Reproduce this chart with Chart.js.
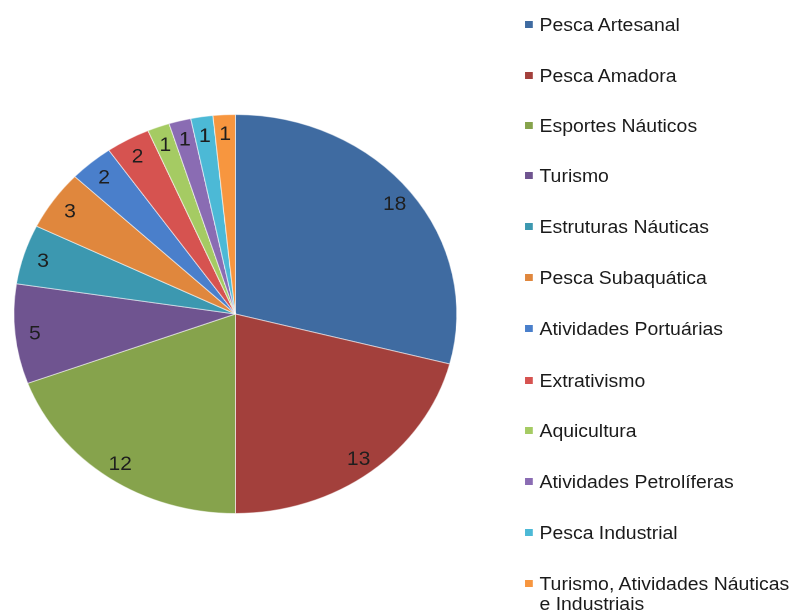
<!DOCTYPE html>
<html>
<head>
<meta charset="utf-8">
<script src="https://cdn.jsdelivr.net/npm/chart.js@4.4.0/dist/chart.umd.min.js"></script>
<style>
  html, body { margin: 0; padding: 0; background: #fff; }
  body { width: 795px; height: 612px; overflow: hidden; position: relative; }
  #stage { position: absolute; left: 0; top: 0; width: 716px; height: 612px;
           transform: scaleX(1.11); transform-origin: 0 0; }
  #c { position: absolute; left: 0; top: 0; }
  #legend { position: absolute; left: 0; top: 0; width: 716px; height: 612px;
            font-family: "Liberation Sans", Arial, sans-serif; font-size: 17.5px; color: #1a1a1a; }
  .item { position: absolute; left: 486px; width: 236px; line-height: 20px; }
  .box { position: absolute; left: -13px; top: 6px; width: 7px; height: 7px; }
</style>
</head>
<body>
<div id="stage">
  <canvas id="c" width="716" height="612"></canvas>
  <div id="legend"></div>
</div>
<script>
const categories = [
  "Pesca Artesanal", "Pesca Amadora", "Esportes Náuticos", "Turismo",
  "Estruturas Náuticas", "Pesca Subaquática", "Atividades Portuárias",
  "Extrativismo", "Aquicultura", "Atividades Petrolíferas",
  "Pesca Industrial", "Turismo, Atividades Náuticas e Industriais"
];
const values = [18, 13, 12, 5, 3, 3, 2, 2, 1, 1, 1, 1];
const colors = [
  "#3F6BA1", "#A3403C", "#86A34C", "#6F5490", "#3C98B0", "#E0873D",
  "#4A7FCB", "#D65350", "#A5CB63", "#8A6CB3", "#4CB9D6", "#F7963F"
];

const labelPlugin = {
  id: "sliceLabels",
  afterDatasetsDraw(chart) {
    const ctx = chart.ctx;
    const meta = chart.getDatasetMeta(0);
    ctx.save();
    ctx.font = '19px "Liberation Sans", Arial, sans-serif';
    ctx.fillStyle = "#1e1e1e";
    ctx.textAlign = "center";
    ctx.textBaseline = "middle";
    meta.data.forEach((arc, i) => {
      const p = arc.getProps(["x", "y", "startAngle", "endAngle", "outerRadius"], true);
      const mid = (p.startAngle + p.endAngle) / 2;
      const r = p.outerRadius * 0.91;
      ctx.fillText(String(values[i]), p.x + Math.cos(mid) * r, p.y + Math.sin(mid) * r + 2);
    });
    ctx.restore();
  }
};

new Chart(document.getElementById("c"), {
  type: "pie",
  data: {
    labels: categories,
    datasets: [{
      data: values,
      backgroundColor: colors,
      borderColor: "rgba(255,255,255,0.55)",
      borderWidth: 1
    }]
  },
  options: {
    responsive: false,
    animation: false,
    devicePixelRatio: 2,
    layout: { padding: { left: 12, right: 304, top: 114, bottom: 98 } },
    plugins: { legend: { display: false }, tooltip: { enabled: false } }
  },
  plugins: [labelPlugin]
});

const legend = document.getElementById("legend");
const rowCenters = [25, 76, 126, 176, 227, 278, 329, 381, 431, 482, 533, 584];
categories.forEach((name, i) => {
  const d = document.createElement("div");
  d.className = "item";
  d.style.top = (rowCenters[i] - 10) + "px";
  const b = document.createElement("span");
  b.className = "box";
  b.style.background = colors[i];
  d.appendChild(b);
  d.appendChild(document.createTextNode(name));
  legend.appendChild(d);
});
</script>
</body>
</html>
